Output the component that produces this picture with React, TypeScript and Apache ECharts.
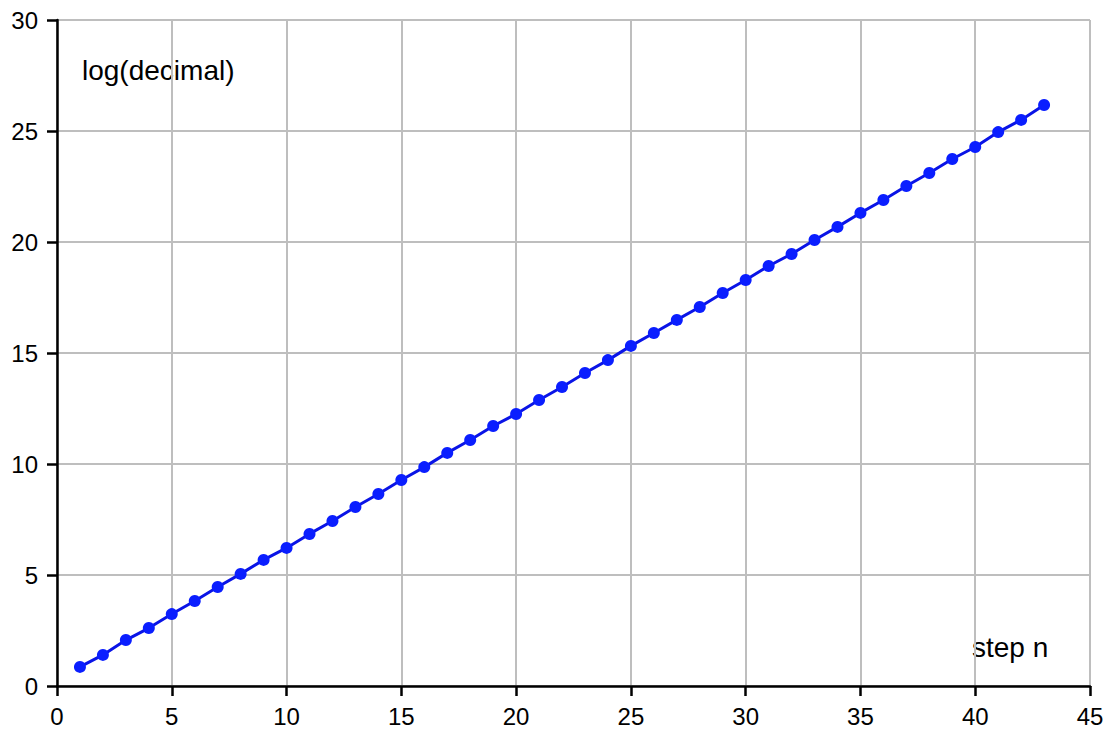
import React, { useEffect, useRef } from "react";
import * as echarts from "echarts";

const steps = Array.from({ length: 43 }, (_, i) => i + 1);
const logValues = [
  0.86, 1.40, 2.07, 2.61, 3.24, 3.83, 4.46, 5.05, 5.68, 6.22,
  6.85, 7.43, 8.06, 8.65, 9.28, 9.86, 10.50, 11.08, 11.71, 12.25,
  12.88, 13.47, 14.10, 14.68, 15.32, 15.90, 16.49, 17.07, 17.70, 18.29,
  18.92, 19.46, 20.09, 20.68, 21.31, 21.89, 22.52, 23.11, 23.74, 24.28,
  24.95, 25.50, 26.17,
];
const yTitle = "log(decimal)";
const xTitle = "step n";

export default function App() {
  const ref = useRef<HTMLDivElement>(null);
  useEffect(() => {
    if (!ref.current) return;
    const chart = echarts.init(ref.current, undefined, { renderer: "svg" });
    const font = "'Liberation Sans', Arial, sans-serif";
    chart.setOption({
      animation: false,
      backgroundColor: "#ffffff",
      grid: { left: 57, right: 24, top: 20, bottom: 48 },
      xAxis: {
        type: "value",
        min: 0,
        max: 45,
        interval: 5,
        axisLine: { show: true, onZero: false, lineStyle: { color: "#000", width: 2.5 } },
        axisTick: { show: true, inside: false, length: 10, lineStyle: { color: "#000", width: 2.5 } },
        axisLabel: { color: "#000", fontSize: 24, fontFamily: font, margin: 18 },
        splitLine: { show: true, lineStyle: { color: "#bebebe", width: 2 } },
      },
      yAxis: {
        type: "value",
        min: 0,
        max: 30,
        interval: 5,
        axisLine: { show: true, onZero: false, lineStyle: { color: "#000", width: 2.5 } },
        axisTick: { show: true, inside: false, length: 10, lineStyle: { color: "#000", width: 2.5 } },
        axisLabel: { color: "#000", fontSize: 24, fontFamily: font, margin: 19 },
        splitLine: { show: true, lineStyle: { color: "#bebebe", width: 2 } },
      },
      graphic: [
        {
          type: "text",
          x: 82,
          y: 70,
          style: { text: yTitle, fontSize: 28, fontFamily: font, fill: "#000", verticalAlign: "middle" },
        },
        {
          type: "text",
          x: 972,
          y: 647,
          style: { text: xTitle, fontSize: 28, fontFamily: font, fill: "#000", verticalAlign: "middle" },
        },
      ],
      series: [
        {
          type: "line",
          data: steps.map((s, i) => [s, logValues[i]]),
          symbol: "circle",
          symbolSize: 12,
          lineStyle: { color: "#0a14e6", width: 3 },
          itemStyle: { color: "#0a1eff" },
          z: 5,
        },
      ],
    });
    return () => chart.dispose();
  }, []);
  return (
    <div
      ref={ref}
      style={{ position: "absolute", left: 0, top: 0, width: 1114, height: 734 }}
    />
  );
}
